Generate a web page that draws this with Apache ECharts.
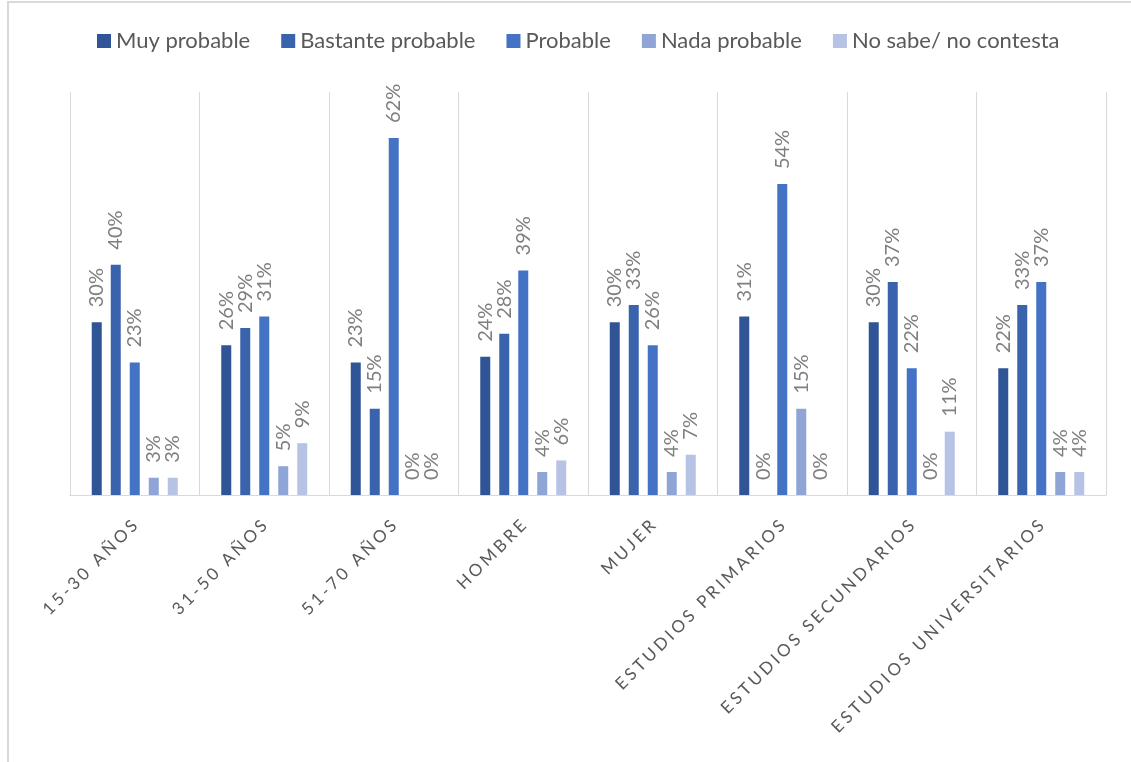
<!DOCTYPE html>
<html>
<head>
<meta charset="utf-8">
<script src="https://cdn.jsdelivr.net/npm/echarts@6/dist/echarts.min.js"></script>
<style>
html,body{margin:0;padding:0;background:#fff;}
#chart{width:1131px;height:762px;}
</style>
</head>
<body>
<div id="chart"></div>
<script>
const categories = ['15-30 AÑOS','31-50 AÑOS','51-70 AÑOS','HOMBRE','MUJER','ESTUDIOS PRIMARIOS','ESTUDIOS SECUNDARIOS','ESTUDIOS UNIVERSITARIOS'];
const seriesNames = ['Muy probable','Bastante probable','Probable','Nada probable','No sabe/ no contesta'];
const muyProbable      = [30, 26, 23, 24, 30, 31, 30, 22];
const bastanteProbable = [40, 29, 15, 28, 33, 0, 37, 33];
const probable         = [23, 31, 62, 39, 26, 54, 22, 37];
const nadaProbable     = [3, 5, 0, 4, 4, 15, 0, 4];
const noSabe           = [3, 9, 0, 6, 7, 0, 11, 4];
const yTicks = [0, 70];

const values = [muyProbable, bastanteProbable, probable, nadaProbable, noSabe];
const colors = ['#2F5597', '#3A63AD', '#4472C4', '#8EA5D6', '#B6C3E4'];

const chart = echarts.init(document.getElementById('chart'), null, {renderer:'canvas'});
const spaced = s => s.split('').join('\u2009\u200A');

chart.setOption({
  animation: false,
  backgroundColor: '#fff',
  color: colors,
  legend: {
    top: 25,
    left: 92,
    itemWidth: 14,
    itemHeight: 14,
    itemGap: 31,
    icon: 'rect',
    textStyle: {fontFamily: 'Lato', fontSize: 22, color: '#595959', padding: [0,0,0,0]},
    data: seriesNames
  },
  grid: {left: 70, right: 25, top: 92, bottom: 267, containLabel: false},
  xAxis: {
    type: 'category',
    data: categories,
    boundaryGap: true,
    axisLine: {show: true, lineStyle: {color: '#D9D9D9', width: 1}},
    axisTick: {show: false},
    splitLine: {show: true, lineStyle: {color: '#D9D9D9', width: 1}},
    axisLabel: {
      rotate: 45,
      interval: 0,
      margin: 28,
      fontFamily: 'Lato',
      fontSize: 17,
      color: '#595959',
      formatter: v => spaced(v)
    }
  },
  yAxis: {
    type: 'value',
    min: yTicks[0],
    max: yTicks[1],
    show: false,
    splitLine: {show: false}
  },
  graphic: [{
    type: 'rect',
    shape: {x: 8, y: 2, width: 1200, height: 900},
    style: {fill: 'none', stroke: '#D9D9D9', lineWidth: 2},
    silent: true,
    z: -10
  }],
  series: seriesNames.map((name, i) => ({
    name: name,
    type: 'bar',
    data: values[i],
    barWidth: 10,
    barGap: '90%',
    itemStyle: {color: colors[i]},
    label: {
      show: true,
      position: 'top',
      rotate: 90,
      align: 'left',
      verticalAlign: 'middle',
      distance: 15,
      fontFamily: 'Lato',
      fontSize: 20,
      color: '#7F7F7F',
      formatter: p => p.value + '%'
    }
  }))
});
</script>
</body>
</html>
